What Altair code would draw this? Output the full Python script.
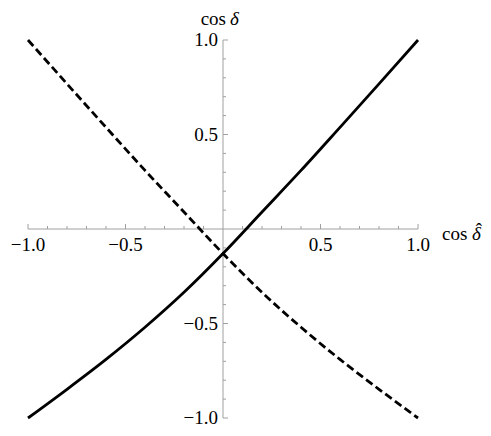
import altair as alt
import pandas as pd

# values
cos_hat = [-1.0, -0.8, -0.6, -0.4, -0.2, 0.0, 0.2, 0.4, 0.6, 0.8, 1.0]
cos_solid = [-1.0, -0.848, -0.69, -0.52, -0.335, -0.13, 0.09, 0.31, 0.538, 0.768, 1.0]
cos_dashed = [1.0, 0.768, 0.538, 0.31, 0.09, -0.13, -0.335, -0.52, -0.69, -0.848, -1.0]

major_ticks = [-1.0, -0.5, 0.5, 1.0]
major_labels = ["\u22121.0", "\u22120.5", "0.5", "1.0"]
minor_ticks = [-0.9, -0.8, -0.7, -0.6, -0.4, -0.3, -0.2, -0.1,
               0.1, 0.2, 0.3, 0.4, 0.6, 0.7, 0.8, 0.9]

W = 390
H = 378
FONT = "Liberation Serif"
FS = 19
AXIS_COLOR = "#a0a0a0"
MAJOR_LEN_Y = 5 / (H / 2)
MINOR_LEN_Y = 3 / (H / 2)
MAJOR_LEN_X = 5 / (W / 2)
MINOR_LEN_X = 3 / (W / 2)

xs = alt.Scale(domain=[-1, 1], nice=False, zero=False)
ys = alt.Scale(domain=[-1, 1], nice=False, zero=False)

def X(field="x"):
    return alt.X(f"{field}:Q", scale=xs, axis=None)

def Y(field="y"):
    return alt.Y(f"{field}:Q", scale=ys, axis=None)

# axis lines
axes_df = pd.DataFrame({"x": [-1.0, 0.0], "x2": [1.0, 0.0], "y": [0.0, -1.0], "y2": [0.0, 1.0]})
axes = alt.Chart(axes_df).mark_rule(color=AXIS_COLOR, strokeWidth=1).encode(
    x=X(), x2="x2:Q", y=Y(), y2="y2:Q")

# x ticks (pointing up), y ticks (pointing right)
xt = pd.DataFrame({
    "x": major_ticks + minor_ticks,
    "len": [MAJOR_LEN_Y] * len(major_ticks) + [MINOR_LEN_Y] * len(minor_ticks),
})
xt["y"] = 0.0
xticks = alt.Chart(xt).mark_rule(color=AXIS_COLOR, strokeWidth=1).encode(
    x=X(), y=Y(), y2="len:Q")

yt = pd.DataFrame({
    "y": major_ticks + minor_ticks,
    "len": [MAJOR_LEN_X] * len(major_ticks) + [MINOR_LEN_X] * len(minor_ticks),
})
yt["x"] = 0.0
yticks = alt.Chart(yt).mark_rule(color=AXIS_COLOR, strokeWidth=1).encode(
    x=X(), x2="len:Q", y=Y())

# tick labels
xl = pd.DataFrame({"x": major_ticks, "y": 0.0, "t": major_labels})
xlabels = alt.Chart(xl).mark_text(font=FONT, fontSize=FS, baseline="top", dy=7, color="black").encode(
    x=X(), y=Y(), text="t:N")
yl = pd.DataFrame({"y": major_ticks, "x": 0.0, "t": major_labels})
ylabels = alt.Chart(yl).mark_text(font=FONT, fontSize=FS, align="right", baseline="middle", dx=-5, color="black").encode(
    x=X(), y=Y(), text="t:N")

# axis titles
def label(xv, yv, txt, **kw):
    return alt.Chart(pd.DataFrame({"x": [xv], "y": [yv], "t": [txt]})).mark_text(
        font=FONT, fontSize=FS, color="black", **kw).encode(x=X(), y=Y(), text="t:N")

xtitle_cos = label(1.0, 0.0, "cos", align="left", baseline="alphabetic", dx=24, dy=11)
xtitle_d = label(1.0, 0.0, "\u03b4", fontStyle="italic", align="left", baseline="alphabetic", dx=54, dy=11)
xtitle_hat = label(1.0, 0.0, "\u02c6", align="center", baseline="alphabetic", dx=61, dy=7)
ytitle_cos = label(0.0, 1.0, "cos", align="right", baseline="alphabetic", dx=3, dy=-15)
ytitle_d = label(0.0, 1.0, "\u03b4", fontStyle="italic", align="left", baseline="alphabetic", dx=7, dy=-15)

# curves
solid_df = pd.DataFrame({"x": cos_hat, "y": cos_solid})
dashed_df = pd.DataFrame({"x": cos_hat, "y": cos_dashed})
solid = alt.Chart(solid_df).mark_line(color="black", strokeWidth=2.8, interpolate="monotone").encode(
    x=X(), y=Y())
dashed = alt.Chart(dashed_df).mark_line(color="black", strokeWidth=2.8, strokeDash=[8, 4], interpolate="monotone").encode(
    x=X(), y=Y())

chart = alt.layer(
    axes, xticks, yticks, xlabels, ylabels,
    xtitle_cos, xtitle_d, xtitle_hat, ytitle_cos, ytitle_d,
    solid, dashed,
).properties(
    width=W, height=H,
    autosize=alt.AutoSizeParams(type="none"),
    padding={"left": 20, "top": 32, "right": 65, "bottom": 10},
).configure_view(stroke=None)

chart.save("out.html", embed_options={"renderer": "svg", "actions": False})
